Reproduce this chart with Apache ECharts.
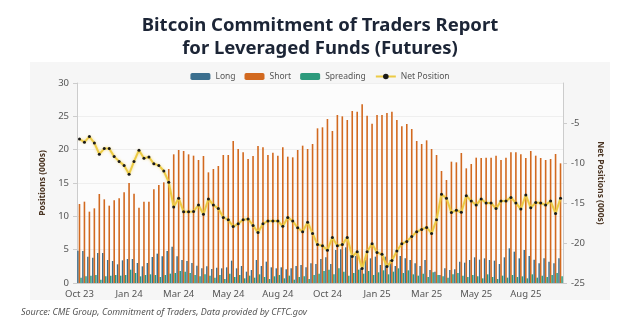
<!DOCTYPE html>
<html><head><meta charset="utf-8">
<script src="https://cdn.jsdelivr.net/npm/echarts@6/dist/echarts.min.js"></script>
<style>html,body{margin:0;padding:0;background:#fff}#c{width:640px;height:334px}</style>
</head><body><div id="c"></div>
<script>
var tickLabels = ["Oct 23","Jan 24","Mar 24","May 24","Aug 24","Oct 24","Jan 25","Mar 25","May 25","Aug 25"];
var shortVals = [11.85,12.2,10.7,11.2,13.35,12.55,11.6,12.4,12.7,13.6,15.0,13.4,11.3,12.2,12.2,14.05,14.7,15.1,17.1,19.3,19.95,19.8,19.3,19.1,
 18.45,19.05,16.6,17.1,17.55,19.2,19.2,21.3,20.1,19.6,18.6,19.05,20.55,20.35,19.2,19.55,19.1,20.35,18.95,18.85,19.95,20.6,20.1,20.85,23.2,
 23.35,24.6,22.8,25.2,25.0,24.45,25.8,25.7,26.8,25.1,23.9,25.2,25.2,25.5,25.7,24.45,23.5,23.85,23.1,21.3,20.85,21.4,20.1,19.2,
 16.8,15.45,18.2,18.1,19.5,17.2,17.85,18.8,18.75,18.8,18.8,19.1,18.45,18.8,19.6,19.6,19.3,18.75,19.8,19.1,18.75,18.45,18.6,19.35,17.95];
var longVals = [4.85,4.8,3.95,3.8,4.5,4.5,3.45,3.3,2.8,3.4,3.6,3.6,3.0,2.5,3.0,3.9,4.4,4.0,4.8,5.45,4.0,3.45,3.3,3.0,
 2.6,2.2,2.5,2.1,2.3,2.2,2.35,3.35,2.2,2.55,1.7,1.95,3.45,2.55,3.2,2.35,2.2,2.35,2.05,2.2,2.55,2.7,2.35,2.95,2.85,
 3.6,3.85,2.85,4.95,5.05,5.35,4.2,4.05,2.2,3.45,3.7,3.95,2.7,3.95,3.45,2.55,4.05,3.7,3.45,2.95,2.55,3.45,1.95,1.7,
 1.2,2.2,1.95,2.05,3.2,3.05,3.45,3.85,3.5,3.7,3.45,3.35,2.85,3.85,5.2,4.7,3.7,4.95,4.05,3.5,2.95,3.7,3.2,2.95,3.7];
var spreadVals = [0.8,1.0,1.1,1.2,0.5,1.0,1.1,1.2,1.1,1.2,2.0,1.5,1.0,1.2,1.3,1.2,0.9,1.2,1.4,1.5,1.8,1.7,1.5,1.2,
 1.0,1.3,1.1,0.8,1.2,0.6,1.4,0.9,1.2,0.7,1.1,0.8,1.3,0.9,0.6,1.0,1.2,0.7,1.1,0.5,0.9,1.0,0.6,1.2,1.4,
 1.8,2.0,1.3,2.2,1.7,1.1,1.5,2.0,1.4,1.8,1.2,1.6,1.9,1.3,1.7,2.2,1.5,1.9,1.3,1.1,1.4,0.9,1.6,1.2,
 1.0,0.8,1.3,1.5,1.1,0.9,1.2,1.0,0.7,1.3,0.9,0.6,1.1,0.8,1.2,0.9,1.0,0.7,1.3,0.8,1.1,0.9,1.2,1.5,1.0];
var netVals = [-7.0,-7.4,-6.7,-7.5,-8.9,-8.2,-8.2,-9.2,-9.8,-10.3,-11.4,-9.8,-8.4,-9.4,-9.25,-10.1,-10.3,-11.0,-12.4,-15.5,-14.4,-16.1,-16.1,-16.05,
 -15.25,-16.4,-14.5,-15.25,-15.7,-16.8,-17.1,-17.95,-17.6,-17.1,-17.0,-17.8,-18.7,-17.6,-17.25,-17.25,-17.25,-17.9,-16.8,-17.25,-18.1,-18.6,-17.4,-18.8,-20.2,
 -20.35,-20.9,-19.3,-20.35,-20.2,-19.3,-21.7,-21.1,-23.2,-21.1,-20.1,-21.2,-21.4,-22.95,-22.2,-21.0,-20.1,-19.8,-19.2,-18.6,-18.3,-18.05,-18.8,-17.1,
 -13.9,-14.4,-16.2,-15.9,-16.15,-14.1,-14.75,-15.25,-14.5,-15.0,-15.0,-15.7,-14.75,-14.75,-14.3,-15.0,-15.75,-14.0,-15.6,-14.95,-15.0,-15.25,-14.75,-16.3,-14.4];
var categories = shortVals.map(function(_, i){ return "W" + (i + 1); });

var chart = echarts.init(document.getElementById('c'), null, {renderer:'canvas'});
var font = '"Noto Sans", "DejaVu Sans", sans-serif';
chart.setOption({
  animation:false,
  backgroundColor:'#ffffff',
  textStyle:{fontFamily:font},
  title:{
    text:'Bitcoin Commitment of Traders Report\nfor Leveraged Funds (Futures)',
    left:'center', top:9,
    textStyle:{fontFamily:font, fontSize:18.5, fontWeight:'bold', color:'#1c2536', lineHeight:23}
  },
  graphic:[
    {type:'rect', left:30, top:62, shape:{width:580, height:238}, style:{fill:'#f6f6f6'}, z:-10},
    {type:'text', left:528, top:88, style:{text:'Q', fill:'#c4c4c4', font:'bold 28px "Noto Sans", sans-serif'}, z:-5},
    {type:'text', left:21, top:308, style:{text:'Source: CME Group, Commitment of Traders, Data provided by CFTC.gov', fill:'#555', font:'italic 9px "Noto Sans", sans-serif'}}
  ],
  legend:{
    top:67, left:'center', itemWidth:20, itemHeight:7, itemGap:9,
    textStyle:{fontSize:8.5, color:'#555'},
    data:[{name:'Long'},{name:'Short'},{name:'Spreading'},{name:'Net Position'}]
  },
  grid:{left:77, right:77, top:83, bottom:51, show:true, backgroundColor:'#fcfcfc', borderWidth:0},
  xAxis:{
    type:'category', data:categories,
    axisLine:{lineStyle:{color:'#cccccc'}},
    axisTick:{show:false},
    axisLabel:{interval:9, color:'#555', fontSize:9.5, margin:6,
      formatter:function(v, i){ return tickLabels[Math.round(i/10)] || ''; }}
  },
  yAxis:[
    {type:'value', min:0, max:30, interval:5, name:'Positions (000s)', nameLocation:'middle', nameGap:27,
     nameTextStyle:{fontSize:8.5, fontWeight:'bold', color:'#4a3422'},
     axisLine:{show:true, lineStyle:{color:'#cccccc'}}, axisTick:{show:true, length:4, lineStyle:{color:'#cccccc'}},
     axisLabel:{color:'#555', fontSize:9.5},
     splitLine:{lineStyle:{color:'#efefef'}}},
    {type:'value', min:-25, max:0, interval:5, name:'Net Positions (000s)', nameLocation:'middle', nameGap:28, nameRotate:-90,
     nameTextStyle:{fontSize:8.5, fontWeight:'bold', color:'#4a3422'},
     axisLine:{show:true, lineStyle:{color:'#cccccc'}}, axisTick:{show:true, length:4, lineStyle:{color:'#cccccc'}},
     axisLabel:{color:'#555', fontSize:9.5, showMaxLabel:false},
     splitLine:{show:false}}
  ],
  series:[
    {name:'Long', type:'bar', data:longVals, barWidth:1.5, barGap:'0%', itemStyle:{color:'#3b6f8e'}},
    {name:'Short', type:'bar', data:shortVals, barWidth:1.6, barGap:'0%', itemStyle:{color:'#d2691f'}},
    {name:'Spreading', type:'bar', data:spreadVals, barWidth:1.5, barGap:'0%', itemStyle:{color:'#2c9a7c'}},
    {name:'Net Position', type:'line', yAxisIndex:1, data:netVals, symbol:'circle', symbolSize:3,
     lineStyle:{color:'#eccb45', width:2, shadowColor:'rgba(240,200,60,0.6)', shadowBlur:3},
     itemStyle:{color:'#1a1a1a'}, z:5}
  ]
});
</script></body></html>
